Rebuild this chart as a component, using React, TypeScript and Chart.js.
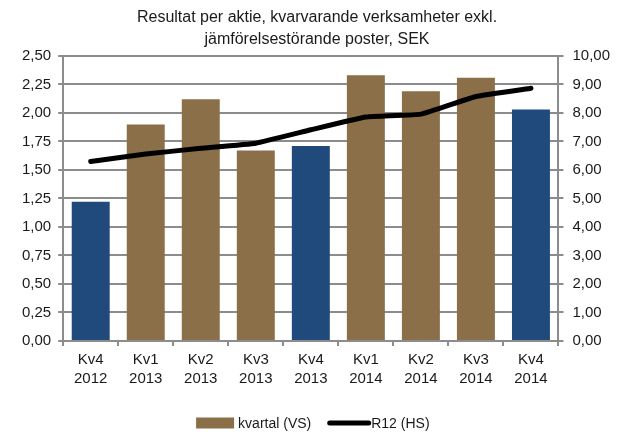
import React, { useEffect, useRef } from "react";
import { Chart, registerables } from "chart.js";

Chart.register(...registerables);

const categories: string[][] = [
  ["Kv4", "2012"], ["Kv1", "2013"], ["Kv2", "2013"], ["Kv3", "2013"], ["Kv4", "2013"],
  ["Kv1", "2014"], ["Kv2", "2014"], ["Kv3", "2014"], ["Kv4", "2014"],
];
const kvartal: number[] = [1.22, 1.90, 2.12, 1.67, 1.71, 2.33, 2.19, 2.31, 2.03];
const r12: number[] = [6.30, 6.56, 6.76, 6.94, 7.41, 7.86, 7.96, 8.58, 8.87];
const isQ4: boolean[] = [true, false, false, false, true, false, false, false, true];
const titleLines: string[] = [
  "Resultat per aktie, kvarvarande verksamheter exkl.",
  "jämförelsestörande poster, SEK",
];
const legendLabels: string[] = ["kvartal (VS)", "R12 (HS)"];

const BROWN = "#8A6F48";
const BLUE = "#214A7C";
const GRID = "#8C8C8C";
const TEXT = "#1a1a1a";
const FONT = "'Liberation Sans', Arial, sans-serif";

const fmt = (v: number) => v.toFixed(2).replace(".", ",");

const customLegend = {
  id: "customLegend",
  afterDraw(chart: any) {
    const ctx = chart.ctx as CanvasRenderingContext2D;
    ctx.save();
    ctx.font = `14px ${FONT}`;
    ctx.textBaseline = "middle";
    ctx.textAlign = "left";
    const boxW = 38, boxH = 11, gapText = 4, gapItems = 16, lineW = 39, lineGap = 5;
    const w1 = ctx.measureText(legendLabels[0]).width;
    const w2 = ctx.measureText(legendLabels[1]).width;
    const total = boxW + gapText + w1 + gapItems + lineW + lineGap + w2;
    const area = chart.chartArea;
    let x = (area.left + area.right) / 2 - total / 2 + 2;
    const y = chart.height - 9;
    ctx.fillStyle = BROWN;
    ctx.fillRect(x, y - boxH / 2, boxW, boxH);
    x += boxW + gapText;
    ctx.fillStyle = TEXT;
    ctx.fillText(legendLabels[0], x, y + 1);
    x += w1 + gapItems + 2.5;
    ctx.strokeStyle = "#000";
    ctx.lineWidth = 5;
    ctx.lineCap = "round";
    ctx.beginPath();
    ctx.moveTo(x, y);
    ctx.lineTo(x + lineW, y);
    ctx.stroke();
    x += lineW + lineGap - 2.5;
    ctx.fillStyle = TEXT;
    ctx.fillText(legendLabels[1], x, y + 1);
    ctx.restore();
  },
};

export default function App() {
  const ref = useRef<HTMLCanvasElement | null>(null);
  useEffect(() => {
    if (!ref.current) return;
    const chart = new Chart(ref.current, {
      type: "bar",
      data: {
        labels: categories,
        datasets: [
          {
            type: "line",
            label: legendLabels[1],
            data: r12,
            yAxisID: "y1",
            borderColor: "#000000",
            backgroundColor: "#000000",
            borderWidth: 5,
            pointRadius: 0,
            tension: 0.1,
            borderCapStyle: "round",
            borderJoinStyle: "round",
          },
          {
            type: "bar",
            label: legendLabels[0],
            data: kvartal,
            yAxisID: "y",
            backgroundColor: isQ4.map((q) => (q ? BLUE : BROWN)),
            borderWidth: 0,
            barPercentage: 0.69,
            categoryPercentage: 1,
          },
        ],
      },
      options: {
        animation: false,
        responsive: false,
        layout: { padding: { left: 15, right: 3, top: 0, bottom: 40 } },
        plugins: {
          title: {
            display: true,
            text: titleLines,
            color: TEXT,
            font: { family: FONT, size: 16, weight: "normal", lineHeight: 1.375 },
            padding: { top: 7, bottom: 5 },
          },
          tooltip: { enabled: false },
          legend: { display: false },
        },
        scales: {
          x: {
            grid: { display: true, drawOnChartArea: false, color: GRID, lineWidth: 2, tickLength: 5, offset: true },
            border: { color: GRID, width: 2 },
            ticks: { color: TEXT, font: { family: FONT, size: 15, lineHeight: 1.27 }, maxRotation: 0, padding: 4 },
          },
          y: {
            position: "left",
            min: 0,
            max: 2.5,
            ticks: { stepSize: 0.25, color: TEXT, font: { family: FONT, size: 15 }, callback: (v: any) => fmt(Number(v)), padding: 7 },
            grid: { color: GRID, lineWidth: 2, tickLength: 5 },
            border: { color: GRID, width: 2 },
          },
          y1: {
            position: "right",
            min: 0,
            max: 10,
            ticks: { stepSize: 1, color: TEXT, font: { family: FONT, size: 15 }, callback: (v: any) => fmt(Number(v)), padding: 9 },
            grid: { drawOnChartArea: false, color: GRID, lineWidth: 2, tickLength: 5 },
            border: { color: GRID, width: 2 },
          },
        },
      },
      plugins: [customLegend],
    });
    return () => chart.destroy();
  }, []);
  return (
    <div style={{ position: "absolute", left: 0, top: 0, width: 622, height: 432, background: "#fff" }}>
      <canvas ref={ref} width={622} height={432} />
    </div>
  );
}
